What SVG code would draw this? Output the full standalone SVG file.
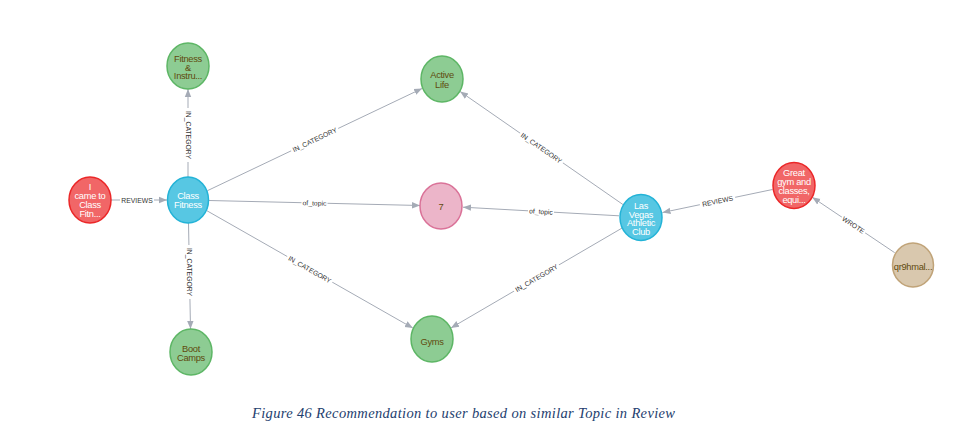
<svg xmlns="http://www.w3.org/2000/svg" width="962" height="439" viewBox="0 0 962 439">
<defs>
<marker id="arr" markerUnits="userSpaceOnUse" markerWidth="8" markerHeight="8" viewBox="0 0 8 8" refX="8" refY="4" orient="auto">
<path d="M0,0.8 L8,4 L0,7.2 Z" fill="#A5ABB6"/>
</marker>
<style>
.e{stroke:#A5ABB6;stroke-width:1;fill:none;marker-end:url(#arr)}
.lb{fill:#fff}
.lt{font-family:"Liberation Sans",Arial,sans-serif;font-size:6.8px;fill:#333;text-anchor:middle;dominant-baseline:central}
.n text{font-family:"Liberation Sans",Arial,sans-serif;font-size:9.3px;text-anchor:middle;letter-spacing:-0.3px}
.red ellipse{fill:#F16667;stroke:#EB2728;stroke-width:1.5}
.red text{fill:#fff}
.blue ellipse{fill:#57C7E3;stroke:#23B3D7;stroke-width:1.5}
.blue text{fill:#fff}
.green ellipse{fill:#8DCC93;stroke:#5DB665;stroke-width:1.5}
.green text{fill:#604A0E}
.pink ellipse{fill:#ECB5C9;stroke:#DA7298;stroke-width:1.5}
.pink text{fill:#604A0E}
.tan ellipse{fill:#D9C8AE;stroke:#C0A378;stroke-width:1.5}
.tan text{fill:#604A0E}
</style>
</defs>
<rect width="962" height="439" fill="#fff"/>
<g id="connectors">
<line class="e" x1="111" y1="200" x2="167" y2="200"/>
<line class="e" x1="188" y1="177" x2="188" y2="89"/>
<line class="e" x1="188.5" y1="223" x2="190.5" y2="329"/>
<line class="e" x1="207.4" y1="190.7" x2="422.1" y2="88.5"/>
<line class="e" x1="209" y1="200.5" x2="420" y2="205.5"/>
<line class="e" x1="206.7" y1="210.6" x2="412.9" y2="328.1"/>
<line class="e" x1="622.9" y1="204.5" x2="460.1" y2="91.5"/>
<line class="e" x1="619" y1="215.8" x2="463" y2="207.2"/>
<line class="e" x1="622" y1="228.1" x2="451" y2="327.9"/>
<line class="e" x1="772.5" y1="189.5" x2="662.5" y2="212.5"/>
<line class="e" x1="894.7" y1="252.7" x2="812.3" y2="197.3"/>
<g transform="translate(137,200)"><rect class="lb" x="-17" y="-4" width="34" height="8"/><text class="lt">REVIEWS</text></g>
<g transform="translate(188,135) rotate(90)"><rect class="lb" x="-27" y="-4" width="54" height="8"/><text class="lt">IN_CATEGORY</text></g>
<g transform="translate(189.5,272) rotate(90)"><rect class="lb" x="-27" y="-4" width="54" height="8"/><text class="lt">IN_CATEGORY</text></g>
<g transform="translate(314.7,139.6) rotate(-25.5)"><rect class="lb" x="-26" y="-4" width="52" height="8"/><text class="lt">IN_CATEGORY</text></g>
<g transform="translate(314.5,203) rotate(1.4)"><rect class="lb" x="-13" y="-4" width="26" height="8"/><text class="lt">of_topic</text></g>
<g transform="translate(309.8,269.4) rotate(29.7)"><rect class="lb" x="-26" y="-4" width="52" height="8"/><text class="lt">IN_CATEGORY</text></g>
<g transform="translate(541.5,148) rotate(34.7)"><rect class="lb" x="-26" y="-4" width="52" height="8"/><text class="lt">IN_CATEGORY</text></g>
<g transform="translate(541,211.5) rotate(3.1)"><rect class="lb" x="-13" y="-4" width="26" height="8"/><text class="lt">of_topic</text></g>
<g transform="translate(536.5,278) rotate(-30.3)"><rect class="lb" x="-26" y="-4" width="52" height="8"/><text class="lt">IN_CATEGORY</text></g>
<g transform="translate(717.5,201) rotate(-11.8)"><rect class="lb" x="-18" y="-4" width="36" height="8"/><text class="lt">REVIEWS</text></g>
<g transform="translate(853.5,225) rotate(33.9)"><rect class="lb" x="-14" y="-4" width="28" height="8"/><text class="lt">WROTE</text></g>
</g>
<g id="n_review1" class="n red"><ellipse cx="90" cy="200" rx="21" ry="23"/><text x="90" y="190">I</text><text x="90" y="199">came to</text><text x="90" y="208">Class</text><text x="90" y="216.5">Fitn...</text></g>
<g id="n_classfitness" class="n blue"><ellipse cx="188" cy="200" rx="20.5" ry="23"/><text x="188" y="199">Class</text><text x="188" y="208">Fitness</text></g>
<g id="n_fitness" class="n green"><ellipse cx="188" cy="66" rx="21" ry="23"/><text x="188" y="62">Fitness</text><text x="188" y="70.5">&amp;</text><text x="188" y="79">Instru...</text></g>
<g id="n_bootcamps" class="n green"><ellipse cx="191" cy="352" rx="21" ry="23"/><text x="191" y="352">Boot</text><text x="191" y="361">Camps</text></g>
<g id="n_activelife" class="n green"><ellipse cx="442" cy="79" rx="21" ry="23"/><text x="442" y="78">Active</text><text x="442" y="88">Life</text></g>
<g id="n_topic7" class="n pink"><ellipse cx="441" cy="206" rx="21" ry="23"/><text x="441" y="210">7</text></g>
<g id="n_gyms" class="n green"><ellipse cx="432" cy="339" rx="21" ry="23"/><text x="432" y="345">Gyms</text></g>
<g id="n_lvac" class="n blue"><ellipse cx="641" cy="217.5" rx="21" ry="23"/><text x="641" y="209">Las</text><text x="641" y="217.5">Vegas</text><text x="641" y="226">Athletic</text><text x="641" y="234.5">Club</text></g>
<g id="n_review2" class="n red"><ellipse cx="794" cy="185.5" rx="21" ry="23"/><text x="794" y="176">Great</text><text x="794" y="185">gym and</text><text x="794" y="193.5">classes,</text><text x="794" y="203">equi...</text></g>
<g id="n_user" class="n tan"><ellipse cx="913" cy="265" rx="20.5" ry="22"/><text x="913" y="270">qr9hmal...</text></g>
<text x="252" y="418" font-family="'Liberation Serif','Times New Roman',serif" font-style="italic" font-size="14.5" fill="#24406E" textLength="423" lengthAdjust="spacing">Figure 46 Recommendation to user based on similar Topic in Review</text>
</svg>
